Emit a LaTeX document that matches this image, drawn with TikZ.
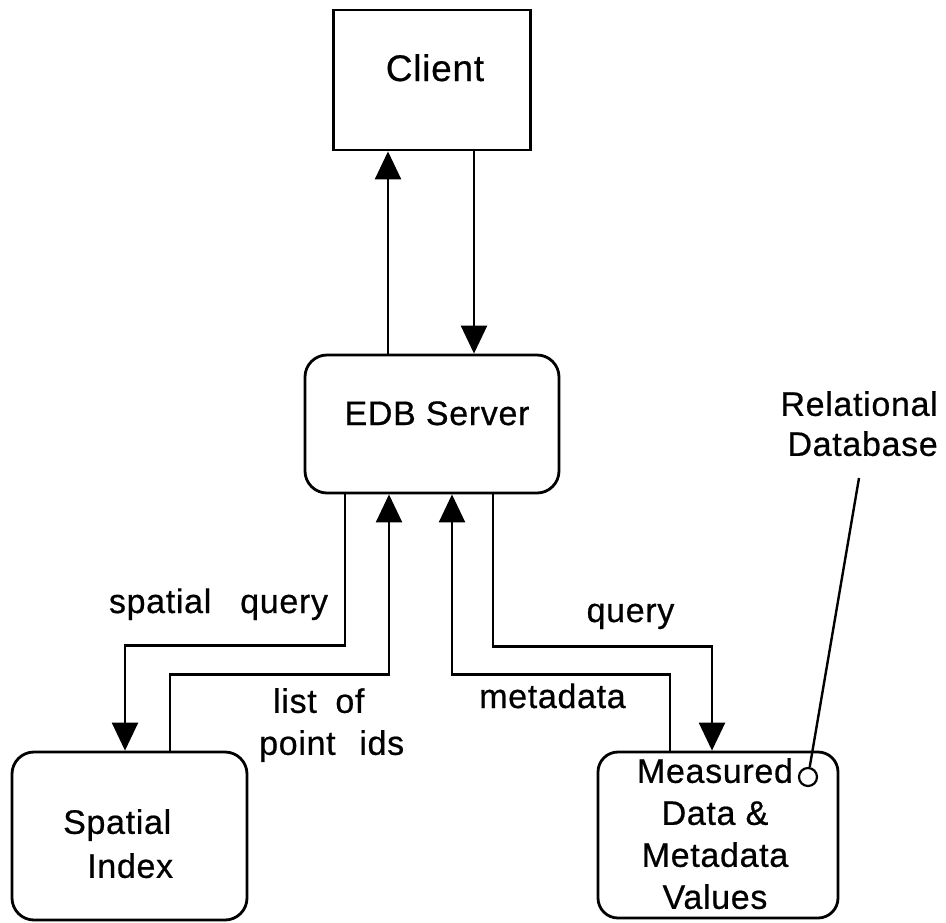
\documentclass[tikz,border=0pt]{standalone}
\usepackage{fontspec}
\newfontfamily\lbl[LetterSpace=2,FakeBold=0.6]{Liberation Sans}
\usetikzlibrary{arrows.meta}
\begin{document}
\begin{tikzpicture}[x=1pt,y=-1pt,
  box/.style={draw,line width=2.8pt,inner sep=0pt},
  rbox/.style={box,rounded corners=22pt},
  txt/.style={font=\lbl\fontsize{34pt}{42pt}\selectfont,inner sep=0pt},
  conn/.style={line width=2.4pt},
  arr/.style={conn,-{Triangle[width=26pt,length=28pt]}}]
\useasboundingbox (0,0) rectangle (946,922);

% boxes
\node[box,minimum width=197pt,minimum height=140pt] (client) at (432,80) {};
\node[rbox,minimum width=254pt,minimum height=138pt] (edb) at (432,424) {};
\node[rbox,minimum width=235pt,minimum height=168pt] (sidx) at (129.5,836) {};
\node[rbox,rounded corners=20pt,minimum width=240pt,minimum height=166pt] (meas) at (718,835) {};

% box texts
\node[txt,font=\lbl\fontsize{37pt}{42pt}\selectfont,anchor=base] (clientlbl) at (435,81) {Client};
\node[txt,anchor=base] (edblbl) at (437,425) {EDB Server};
\node[txt,font=\lbl\fontsize{34pt}{44pt}\selectfont,align=left,anchor=north west] (sidxlbl) at (63,809) {Spatial\\\hspace*{24pt}Index};
\node[txt,align=center,anchor=north] (measlbl) at (715,758) {Measured\\Data \&\\Metadata\\Values};

% client <-> server
\draw[arr] ([xshift=-44pt]edb.north) -- ([xshift=-44pt]client.south);
\draw[arr] ([xshift=42pt]client.south) -- ([xshift=42pt]edb.north);

% server <-> spatial index
\draw[arr] ([xshift=-87pt]edb.south) -- ++(0,151) -| ([xshift=-4.5pt]sidx.north);
\draw[arr] ([xshift=40.5pt]sidx.north) -- ++(0,-76) -| ([xshift=-43pt]edb.south);

% server <-> measured data
\draw[arr] ([xshift=-48pt]meas.north) -- ++(0,-76) -| ([xshift=20pt]edb.south);
\draw[arr] ([xshift=61pt]edb.south) -- ++(0,152) -| ([xshift=-6pt]meas.north);

% connector labels
\node[txt,anchor=base] (sqlbl) at (218.5,613) {spatial\hspace{0.85em}query};
\node[txt,align=left,anchor=north west] (pidlbl) at (259,688) {\hspace*{14pt}list\hspace{0.25em} of\\point\hspace{0.4em} ids};
\node[txt,anchor=base] (qlbl) at (630.5,622) {query};
\node[txt,anchor=base] (mdlbl) at (552.5,708) {metadata};

% relational database pointer
\node[txt,font=\lbl\fontsize{34pt}{40pt}\selectfont,align=right,anchor=north east] (rellbl) at (938,391) {Relational\\Database};
\coordinate (rtop) at (859,478);
\node[draw,circle,line width=2.2pt,minimum size=18pt,inner sep=0pt] (rdb) at (808,777) {};
\draw[conn] (rtop) -- (rdb);
\end{tikzpicture}
\end{document}
